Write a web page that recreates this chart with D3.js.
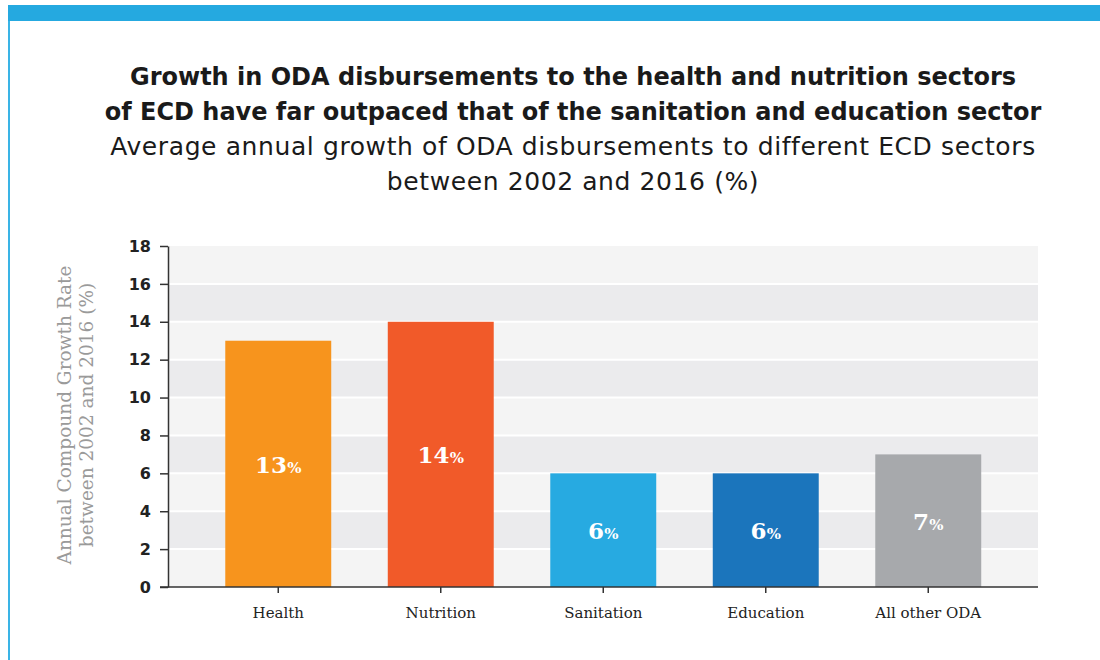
<!DOCTYPE html>
<html>
<head>
<meta charset="utf-8">
<script src="https://cdn.jsdelivr.net/npm/d3@7"></script>
<style>
  body { margin: 0; background: #fff; }
  svg { display: block; }
</style>
</head>
<body>
<div id="chart"></div>
<script>
// chart data
const categories = ["Health", "Nutrition", "Sanitation", "Education", "All other ODA"];
const growth = [13, 14, 6, 6, 7];
const barColors = ["#f7941d", "#f15a29", "#27aae1", "#1b75bc", "#a7a9ac"];
const yTicks = [0, 2, 4, 6, 8, 10, 12, 14, 16, 18];
const titleLines = [
  "Growth in ODA disbursements to the health and nutrition sectors",
  "of ECD have far outpaced that of the sanitation and education sector"
];
const subtitleLines = [
  "Average annual growth of ODA disbursements to different ECD sectors",
  "between 2002 and 2016 (%)"
];
const yLabelLines = ["Annual Compound Growth Rate", "between 2002 and 2016 (%)"];

const W = 1100, H = 660;
const plot = {left: 169, right: 1038, top: 246, bottom: 587};

const svg = d3.select("#chart").append("svg")
  .attr("width", W)
  .attr("height", H);

// frame: blue top band and left rule
svg.append("rect").attr("x", 8).attr("y", 5).attr("width", W - 8).attr("height", 16).attr("fill", "#25a9e0");
svg.append("rect").attr("x", 8).attr("y", 21).attr("width", 2).attr("height", H - 21).attr("fill", "#3ab4e6");

// titles
const titleFont = "'DejaVu Sans', sans-serif";
svg.selectAll(".title")
  .data(titleLines)
  .enter().append("text")
  .attr("class", "title")
  .attr("x", 573)
  .attr("y", (d, i) => 85 + i * 35)
  .attr("text-anchor", "middle")
  .style("font-family", titleFont)
  .style("font-weight", "bold")
  .style("font-size", "24px")
  .attr("fill", "#1a1a1a")
  .text(d => d);

svg.selectAll(".subtitle")
  .data(subtitleLines)
  .enter().append("text")
  .attr("class", "subtitle")
  .attr("x", 573)
  .attr("y", (d, i) => 155 + i * 35)
  .attr("text-anchor", "middle")
  .style("font-family", titleFont)
  .style("font-size", "25px")
  .style("letter-spacing", "0.6px")
  .attr("fill", "#1a1a1a")
  .text(d => d);

// scales
const y = d3.scaleLinear().domain([0, 18]).range([plot.bottom, plot.top]);
const x = d3.scaleBand()
  .domain(categories)
  .range([197, 1009.5])
  .paddingInner(0.348)
  .paddingOuter(0.174);

// alternating background bands
const bands = d3.range(0, 18, 2);
svg.append("g").selectAll("rect")
  .data(bands)
  .enter().append("rect")
  .attr("x", plot.left)
  .attr("width", plot.right - plot.left)
  .attr("y", d => y(d + 2))
  .attr("height", d => y(d) - y(d + 2))
  .attr("fill", d => (d / 2) % 2 === 0 ? "#f4f4f4" : "#ebebed");

// white separators at gridlines
svg.append("g").selectAll("line")
  .data(yTicks.slice(1, -1))
  .enter().append("line")
  .attr("x1", plot.left).attr("x2", plot.right)
  .attr("y1", d => y(d)).attr("y2", d => y(d))
  .attr("stroke", "#fff").attr("stroke-width", 2);

// bars
svg.append("g").selectAll("rect")
  .data(growth)
  .enter().append("rect")
  .attr("x", (d, i) => x(categories[i]))
  .attr("width", x.bandwidth())
  .attr("y", d => y(d))
  .attr("height", d => y(0) - y(d))
  .attr("fill", (d, i) => barColors[i]);

// value labels
const slab = "'DejaVu Serif', serif";
const vl = svg.append("g").selectAll("text")
  .data(growth)
  .enter().append("text")
  .attr("x", (d, i) => x(categories[i]) + x.bandwidth() / 2)
  .attr("y", d => y(d / 2) + 9)
  .attr("text-anchor", "middle")
  .attr("fill", "#fff")
  .style("font-family", slab);
vl.append("tspan").style("font-size", "23px").style("font-weight", "bold").text(d => d);
vl.append("tspan").style("font-size", "15px").style("font-weight", "bold").text("%");

// axes
const yAxis = d3.axisLeft(y).tickValues(yTicks).tickSize(8).tickPadding(9).tickSizeOuter(0);
const yAxisG = svg.append("g")
  .attr("transform", `translate(${plot.left - 1},0)`)
  .call(yAxis);
yAxisG.select(".domain").attr("stroke", "#333").attr("stroke-width", 1.5);
yAxisG.selectAll(".tick line").attr("stroke", "#333").attr("stroke-width", 1.5);
yAxisG.selectAll(".tick text")
  .style("font-family", "'DejaVu Sans', sans-serif")
  .style("font-weight", "bold")
  .style("font-size", "16px")
  .attr("fill", "#222");

const xAxis = d3.axisBottom(x).tickSize(6).tickPadding(14).tickSizeOuter(0);
const xAxisG = svg.append("g")
  .attr("transform", `translate(0,${plot.bottom})`)
  .call(xAxis);
xAxisG.select(".domain").remove();
xAxisG.selectAll(".tick line").attr("stroke", "#333").attr("stroke-width", 1.5);
xAxisG.selectAll(".tick text")
  .style("font-family", slab)
  .style("font-size", "15px")
  .attr("fill", "#222");

// x baseline, from the y tick to the plot edge
svg.append("line")
  .attr("x1", plot.left - 9).attr("x2", plot.right)
  .attr("y1", plot.bottom).attr("y2", plot.bottom)
  .attr("stroke", "#333").attr("stroke-width", 1.5);

// y axis title
svg.append("text")
  .attr("transform", "translate(76,415) rotate(-90)")
  .attr("text-anchor", "middle")
  .style("font-family", slab)
  .style("font-size", "18.5px")
  .attr("fill", "#9a9a9a")
  .selectAll("tspan")
  .data(yLabelLines)
  .enter().append("tspan")
  .attr("x", 0)
  .attr("dy", (d, i) => i === 0 ? -5 : 22)
  .text(d => d);
</script>
</body>
</html>
